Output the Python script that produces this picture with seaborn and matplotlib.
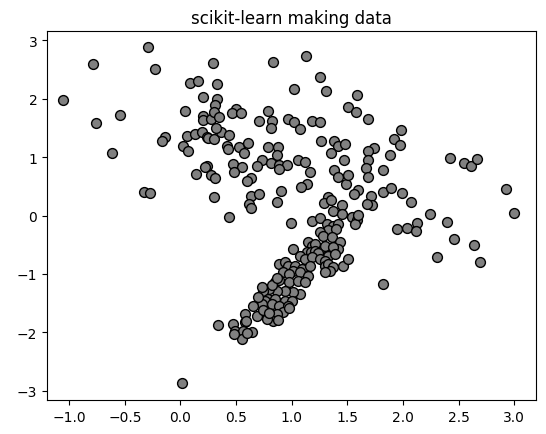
import matplotlib
matplotlib.use("Agg")
import matplotlib.pyplot as plt
import seaborn as sns
import pandas as pd

x_vals = [
    -0.29, -0.79, -0.23, 0.09, 0.16, 0.29, -1.06, 0.20, 0.04, -0.54,
    -0.76, 0.20, 0.20, 0.27, -0.14, -0.17, 0.06, 0.13, 0.19, 0.24,
    0.02, 0.07, -0.62, 0.24, 0.22, 0.14, 0.27, 0.30, -0.33, -0.27,
    0.01, 0.33, 0.83, 1.13, 1.25, 1.02, 1.31, 1.59, 0.33, 0.31,
    0.50, 0.46, 0.54, 0.30, 0.35, 0.79, 0.71, 0.82, 0.81, 0.97,
    1.02, 1.07, 1.18, 1.25, 1.51, 1.58, 1.69, 0.25, 0.30, 0.36,
    0.44, 0.32, 0.42, 0.43, 0.53, 0.61, 0.57, 0.79, 0.88, 0.87,
    0.73, 0.81, 0.89, 0.96, 0.89, 1.06, 1.12, 1.26, 1.38, 1.42,
    1.48, 1.35, 1.47, 1.74, 1.69, 1.69, 1.67, 1.69, 0.47, 0.55,
    0.48, 0.31, 0.69, 0.63, 0.60, 1.16, 1.14, 1.08, 1.38, 1.42,
    1.49, 1.51, 1.60, 1.56, 1.71, 0.90, 0.63, 0.71, 1.33, 1.98,
    1.92, 1.97, 1.88, 1.82, 1.82, 1.89, 1.99, 2.07, 2.42, 2.55,
    2.61, 2.67, 2.93, 3.00, 2.24, 2.13, 1.95, 2.04, 2.12, 2.40,
    2.46, 2.64, 2.31, 2.69, 1.82, 0.62, 0.63, 0.87, 1.29, 1.35,
    1.45, 1.37, 1.45, 1.72, 1.68, 0.44, 0.99, 1.18, 1.25, 1.32,
    1.37, 1.42, 1.33, 1.40, 1.54, 1.59, 1.57, 1.60, 1.25, 1.28,
    1.36, 1.43, 1.42, 1.27, 1.15, 1.18, 1.21, 1.30, 1.37, 1.01,
    1.14, 1.17, 1.21, 1.24, 1.33, 1.39, 1.46, 1.51, 1.07, 1.12,
    1.18, 1.25, 1.30, 0.89, 0.94, 0.97, 1.03, 1.09, 1.16, 1.01,
    0.92, 0.98, 1.07, 1.15, 1.30, 1.33, 1.37, 1.34, 1.30, 0.85,
    0.89, 0.98, 1.06, 1.12, 1.07, 1.01, 0.94, 0.87, 0.80, 0.74,
    0.73, 0.79, 0.85, 0.94, 1.00, 0.76, 0.73, 0.70, 0.82, 0.89,
    0.97, 0.92, 0.87, 0.83, 0.65, 0.69, 0.78, 0.58, 0.58, 0.47,
    0.34, 0.49, 0.56, 0.64, 0.55, 0.74, 0.80, 0.82, 0.98, 0.88,
    0.87, 0.59, 0.48, 0.60,
]
y_vals = [
    2.88, 2.59, 2.50, 2.27, 2.30, 2.61, 1.97, 2.03, 1.79, 1.72,
    1.58, 1.70, 1.63, 1.65, 1.34, 1.27, 1.36, 1.39, 1.43, 1.34,
    1.19, 1.10, 1.07, 0.85, 0.83, 0.71, 0.69, 0.32, 0.40, 0.38,
    -2.86, 2.25, 2.62, 2.73, 2.37, 2.16, 2.13, 2.06, 1.99, 1.89,
    1.82, 1.75, 1.75, 1.77, 1.68, 1.79, 1.62, 1.62, 1.50, 1.65,
    1.60, 1.48, 1.62, 1.60, 1.85, 1.77, 1.65, 1.32, 1.31, 1.43,
    1.38, 1.50, 1.19, 1.14, 1.17, 1.24, 1.07, 1.17, 1.17, 1.03,
    0.95, 0.90, 0.86, 0.86, 0.79, 0.95, 0.91, 1.27, 1.27, 1.19,
    1.22, 1.07, 0.95, 1.15, 1.10, 0.95, 0.81, 0.66, 0.88, 0.83,
    0.74, 0.64, 0.85, 0.64, 0.59, 0.74, 0.54, 0.49, 0.78, 0.66,
    0.54, 0.69, 0.44, 0.37, 0.33, 0.42, 0.33, 0.37, 0.32, 1.46,
    1.31, 1.21, 1.03, 0.78, 0.40, 0.47, 0.38, 0.23, 0.98, 0.90,
    0.85, 0.97, 0.45, 0.04, 0.03, -0.13, -0.23, -0.21, -0.26, -0.11,
    -0.40, -0.50, -0.71, -0.79, -1.17, 0.20, 0.13, 0.23, 0.21, 0.26,
    0.18, 0.08, 0.03, 0.18, 0.20, -0.03, -0.13, -0.09, -0.04, -0.15,
    -0.18, -0.15, -0.25, -0.23, -0.03, -0.08, -0.15, 0.01, -0.28, -0.35,
    -0.37, -0.45, -0.57, -0.56, -0.45, -0.52, -0.49, -0.52, -0.54, -0.57,
    -0.62, -0.62, -0.61, -0.64, -0.69, -0.66, -0.86, -0.74, -0.69, -0.74,
    -0.71, -0.74, -0.78, -0.83, -0.79, -0.86, -0.86, -0.91, -0.86, -0.95,
    -0.97, -1.00, -0.97, -1.03, -0.86, -0.83, -0.88, -0.95, -0.97, -1.14,
    -1.10, -1.14, -1.12, -1.14, -1.34, -1.31, -1.29, -1.29, -1.26, -1.29,
    -1.22, -1.43, -1.43, -1.46, -1.46, -1.46, -1.51, -1.39, -1.51, -1.55,
    -1.55, -1.65, -1.68, -1.80, -1.55, -1.72, -1.77, -1.68, -1.82, -1.85,
    -1.87, -1.97, -1.97, -1.99, -2.11, -1.62, -1.67, -1.19, -1.58, -1.79,
    -1.07, -1.80, -2.03, -2.01,
]

df = pd.DataFrame({"x": x_vals, "y": y_vals})

fig = plt.figure(figsize=(5.46, 4.35), dpi=100)
ax = fig.add_axes([47 / 546, (435 - 401) / 435, 489 / 546, 369 / 435])
sns.scatterplot(data=df, x="x", y="y", ax=ax, color="grey", edgecolor="k",
                s=50, linewidth=1, marker="o")
ax.set_xlim(-1.2, 3.196)
ax.set_ylim(-3.154, 3.154)
ax.set_xlabel("")
ax.set_ylabel("")
ax.set_title("scikit-learn making data", fontsize=12)
fig.savefig("out.png", dpi=100)
